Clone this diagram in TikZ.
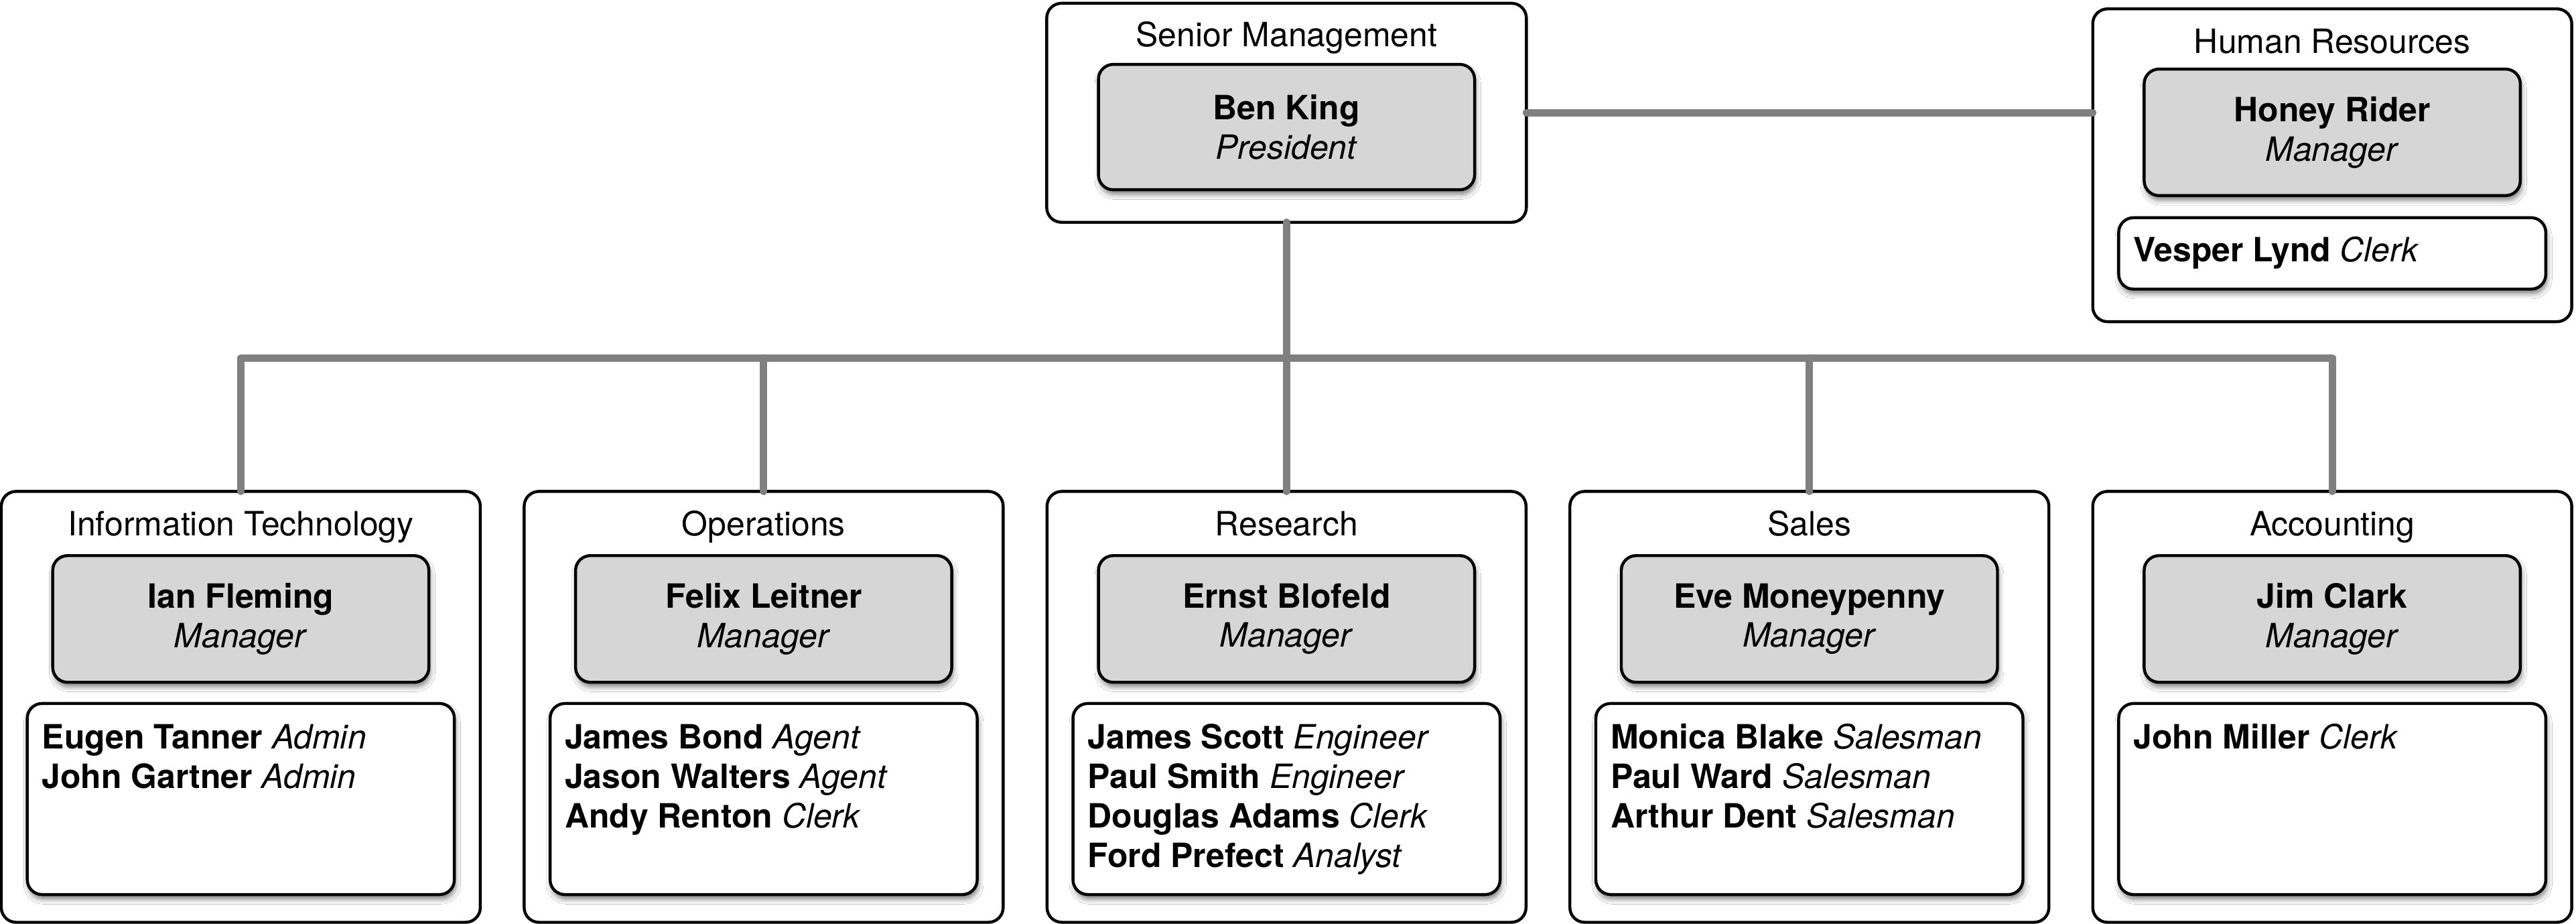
\documentclass[tikz,border=0pt]{standalone}
\usepackage{fontspec}
\setmainfont{TeX Gyre Heros}
\usetikzlibrary{shadows.blur}
\definecolor{mgrgray}{RGB}{214,214,214}
\definecolor{linkgray}{RGB}{128,128,128}
\newcommand{\fstrut}{\rule{0pt}{16pt}}
\tikzset{
  every node/.style={font=\fontsize{20.35}{24}\selectfont},
  grp/.style={draw=black, line width=1.8pt, rounded corners=9pt, fill=white,
    minimum width=291.6pt, inner sep=0pt, outer sep=0pt},
  mgr/.style={draw=black, line width=1.8pt, rounded corners=9pt, fill=mgrgray,
    minimum width=229pt, minimum height=77pt, align=center, inner sep=0pt, outer sep=0pt,
    blur shadow={shadow xshift=0.8pt, shadow yshift=-2.8pt, shadow blur radius=3pt, shadow opacity=50}},
  staffbox/.style={draw=black, line width=1.8pt, rounded corners=9pt, fill=white,
    minimum width=260pt, inner sep=0pt, outer sep=0pt,
    blur shadow={shadow xshift=0.8pt, shadow yshift=-2.8pt, shadow blur radius=3pt, shadow opacity=50}},
  stafftext/.style={anchor=north west, align=left, inner sep=0pt},
  grptitle/.style={anchor=base, inner sep=0pt},
  link/.style={draw=linkgray, line width=4.5pt, line cap=round, line join=round},
}
\begin{document}
\begin{tikzpicture}[x=1pt, y=-1pt]
\useasboundingbox (0,0) rectangle (1568.2,562.4);

% Senior Management
\node[grp, minimum width=292pt, minimum height=133.3pt] (sm) at (783.2,68.65) {};
\node[grptitle] (smt) at (783.2,28.5) {Senior Management};
\node[mgr, minimum height=76.3pt] (ben) at (783.2,77.35) {\textbf{Ben King}\\\textit{President}};

% Human Resources
\node[grp, minimum height=190.4pt] (hr) at (1419.8,100.6) {};
\node[grptitle] (hrt) at (1419.8,32.6) {Human Resources};
\node[mgr] (honey) at (1419.8,80.55) {\textbf{Honey Rider}\\\textit{Manager}};
\node[staffbox, minimum height=43.5pt] (hrs) at (1419.8,154.25) {};
\node[stafftext] (hrst) at (1298.6,143) {\fstrut\textbf{Vesper Lynd} \textit{Clerk}};

% Information Technology
\node[grp, minimum height=262.3pt] (it) at (146.6,430.25) {};
\node[grptitle] (itt) at (146.6,326) {Information Technology};
\node[mgr, minimum height=77.1pt] (ian) at (146.6,376.75) {\textbf{Ian Fleming}\\\textit{Manager}};
\node[staffbox, minimum height=116.3pt] (its) at (146.6,486.35) {};
\node[stafftext] (itst) at (25.4,439.7) {\fstrut\textbf{Eugen Tanner} \textit{Admin}\\\textbf{John Gartner} \textit{Admin}};

% Operations
\node[grp, minimum height=262.3pt] (ops) at (464.9,430.25) {};
\node[grptitle] (opst) at (464.9,326) {Operations};
\node[mgr, minimum height=77.1pt] (felix) at (464.9,376.75) {\textbf{Felix Leitner}\\\textit{Manager}};
\node[staffbox, minimum height=116.3pt] (opss) at (464.9,486.35) {};
\node[stafftext] (opsst) at (343.7,439.7) {\fstrut\textbf{James Bond} \textit{Agent}\\\textbf{Jason Walters} \textit{Agent}\\\textbf{Andy Renton} \textit{Clerk}};

% Research
\node[grp, minimum height=262.3pt] (res) at (783.2,430.25) {};
\node[grptitle] (rest) at (783.2,326) {Research};
\node[mgr, minimum height=77.1pt] (ernst) at (783.2,376.75) {\textbf{Ernst Blofeld}\\\textit{Manager}};
\node[staffbox, minimum height=116.3pt] (ress) at (783.2,486.35) {};
\node[stafftext] (resst) at (662,439.7) {\fstrut\textbf{James Scott} \textit{Engineer}\\\textbf{Paul Smith} \textit{Engineer}\\\textbf{Douglas Adams} \textit{Clerk}\\\textbf{Ford Prefect} \textit{Analyst}};

% Sales
\node[grp, minimum height=262.3pt] (sal) at (1101.5,430.25) {};
\node[grptitle] (salt) at (1101.5,326) {Sales};
\node[mgr, minimum height=77.1pt] (eve) at (1101.5,376.75) {\textbf{Eve Moneypenny}\\\textit{Manager}};
\node[staffbox, minimum height=116.3pt] (sals) at (1101.5,486.35) {};
\node[stafftext] (salst) at (980.3,439.7) {\fstrut\textbf{Monica Blake} \textit{Salesman}\\\textbf{Paul Ward} \textit{Salesman}\\\textbf{Arthur Dent} \textit{Salesman}};

% Accounting
\node[grp, minimum height=262.3pt] (acc) at (1419.8,430.25) {};
\node[grptitle] (acct) at (1419.8,326) {Accounting};
\node[mgr, minimum height=77.1pt] (jim) at (1419.8,376.75) {\textbf{Jim Clark}\\\textit{Manager}};
\node[staffbox, minimum height=116.3pt] (accs) at (1419.8,486.35) {};
\node[stafftext] (accst) at (1298.6,439.7) {\fstrut\textbf{John Miller} \textit{Clerk}};

% Connectors
\coordinate (bus) at (783.2,217.8);
\draw[link] (sm.east) -- (sm.east -| hr.west);
\draw[link] (it.north) -- (it.north |- bus) -- (acc.north |- bus) -- (acc.north);
\draw[link] (sm.south) -- (res.north);
\draw[link] (ops.north) -- (ops.north |- bus);
\draw[link] (sal.north) -- (sal.north |- bus);
\end{tikzpicture}
\end{document}
